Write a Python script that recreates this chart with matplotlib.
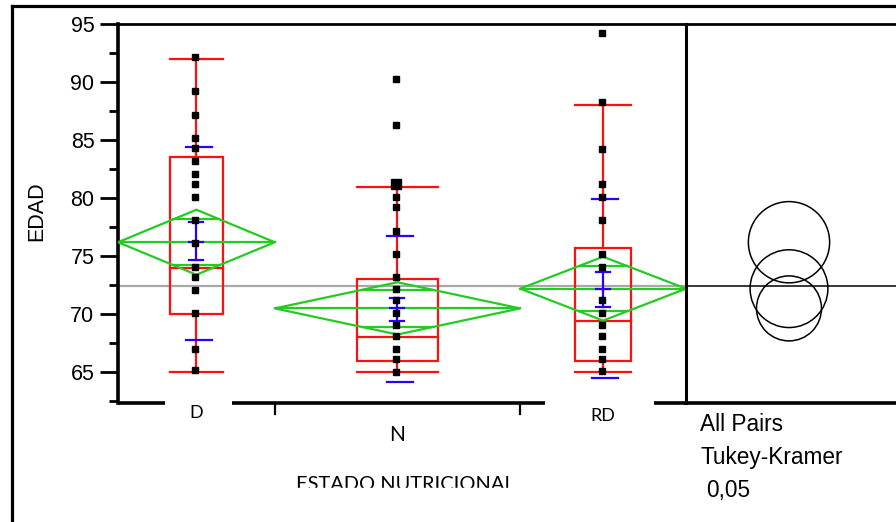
import numpy as np
import matplotlib.pyplot as plt
from matplotlib.lines import Line2D
from matplotlib.patches import Polygon, Rectangle, Circle

groups = ["D", "N", "RD"]
group_edges = [0.0, 0.276, 0.708, 1.0]

# EDAD values
edad_d = [92.2, 89.2, 87.2, 85.2, 84.3, 83.2, 82.1, 81.2, 80.1, 78.1, 76.1, 74.1,
          73.2, 72.1, 70.1, 67.0, 65.2]
edad_n = [90.3, 86.3, 81.2, 81.2, 80.1, 79.2, 77.2, 75.2, 73.2, 72.2, 71.2, 70.1,
          69.1, 68.1, 67.0, 66.1, 65.0]
edad_rd = [94.2, 88.3, 84.2, 81.2, 80.1, 78.1, 75.2, 74.1, 71.2, 70.1, 69.1, 68.1,
           67.0, 66.1, 65.1]

# quantile box stats
q1 = [70.0, 66.0, 66.0]
median = [74.0, 68.0, 69.4]
q3 = [83.5, 73.0, 75.7]
whisk_lo = [65.0, 65.0, 65.0]
whisk_hi = [92.0, 81.0, 88.0]

# means diamonds / error bars / std dev lines
means = [76.2, 70.5, 72.2]
ci_half = [2.8, 2.25, 2.75]
err_lo = [74.7, 69.4, 70.6]
err_hi = [77.9, 71.4, 73.6]
sd_lo = [67.8, 64.2, 64.5]
sd_hi = [84.4, 76.7, 79.9]
grand_mean = 72.45

# comparison circles (Tukey-Kramer)
circle_r = [3.5, 2.8, 3.35]

RED = "#ff1010"
GREEN = "#22cc22"
BLUE = "#2a00ff"

W, H = 896, 522
fig = plt.figure(figsize=(W / 100, H / 100), dpi=100)

L, R, T, B = 118, 686, 24, 403
ax = fig.add_axes([L / W, 1 - B / H, (R - L) / W, (B - T) / H])
ax2 = fig.add_axes([R / W, 1 - B / H, (W - R) / W, (B - T) / H])

ymin, ymax = 62.35, 95
ax.set_xlim(0, 1)
ax.set_ylim(ymin, ymax)

data = [edad_d, edad_n, edad_rd]
px_per_ax = R - L
sd_w = 26 / px_per_ax
cap_w = 14 / px_per_ax

ax.axhline(grand_mean, color="#a8a8a8", lw=1.6, zorder=1)

for i, vals in enumerate(data):
    left, right = group_edges[i], group_edges[i + 1]
    gw = right - left
    cx = (left + right) / 2
    bw = gw / 3

    # box plot
    ax.add_patch(Rectangle((cx - bw / 2, q1[i]), bw, q3[i] - q1[i], fill=False,
                           edgecolor=RED, lw=1.6, zorder=2))
    ax.plot([cx - bw / 2, cx + bw / 2], [median[i]] * 2, color=RED, lw=1.6, zorder=2)
    ax.plot([cx, cx], [whisk_lo[i], q1[i]], color=RED, lw=1.6, zorder=2)
    ax.plot([cx, cx], [q3[i], whisk_hi[i]], color=RED, lw=1.6, zorder=2)
    for w in (whisk_lo[i], whisk_hi[i]):
        ax.plot([cx - bw / 2, cx + bw / 2], [w, w], color=RED, lw=1.6, zorder=2)

    # means diamond
    m, h = means[i], ci_half[i]
    ax.add_patch(Polygon([(left, m), (cx, m + h), (right, m), (cx, m - h)],
                         closed=True, fill=False, edgecolor=GREEN, lw=1.6, zorder=3))
    ax.plot([left, right], [m, m], color=GREEN, lw=1.6, zorder=3)
    ov = h / np.sqrt(2)
    ow = gw * (1 - 1 / np.sqrt(2)) / 2
    for y in (m + ov, m - ov):
        ax.plot([cx - ow, cx + ow], [y, y], color=GREEN, lw=1.6, zorder=3)

    # error bars and std dev lines
    ax.plot([cx, cx], [err_lo[i], err_hi[i]], color=BLUE, lw=1.6, zorder=4)
    for y in (err_lo[i], m, err_hi[i]):
        ax.plot([cx - cap_w / 2, cx + cap_w / 2], [y, y], color=BLUE, lw=1.6, zorder=4)
    for y in (sd_lo[i], sd_hi[i]):
        ax.plot([cx - sd_w / 2 + 0.004, cx + sd_w / 2 + 0.004], [y, y],
                color=BLUE, lw=1.6, zorder=4)

    # points (repeated values drawn bigger)
    uv, cnt = np.unique(vals, return_counts=True)
    for v, c in zip(uv, cnt):
        ax.plot(cx - 0.002, v, "s", color="black", ms=4.4 if c == 1 else 6.8,
                mec="black", zorder=5)

# axes styling
ax.set_yticks([65, 70, 75, 80, 85, 90, 95])
ax.set_yticks(np.arange(62.5, 95, 2.5), minor=True)
ax.set_xticks([])
ax.tick_params(axis="y", which="major", length=13, width=2, labelsize=15.5, pad=4)
ax.tick_params(axis="y", which="minor", length=6.5, width=2)
for lab in ax.get_yticklabels():
    lab.set_fontfamily("Liberation Sans")
ax.spines["left"].set_linewidth(2.6)
ax.spines["top"].set_linewidth(2)
ax.spines["right"].set_visible(False)
ax.spines["bottom"].set_visible(False)

# broken bottom axis with separator ticks
bt = ax.get_xaxis_transform()
for a, b in [(118, 165), (232, 545), (654, 686)]:
    ax.plot([(a - L) / px_per_ax, (b - L) / px_per_ax], [0, 0], color="black",
            lw=2.6, transform=bt, clip_on=False, solid_capstyle="butt")
for e in group_edges[1:-1]:
    ax.plot([e, e], [0, -11 / (B - T)], color="black", lw=1.6, transform=bt,
            clip_on=False)

label_dy = [2, 22, 5]
label_fs = [13, 15, 13]
for i, g in enumerate(groups):
    cx = (group_edges[i] + group_edges[i + 1]) / 2
    ax.annotate(g, (cx, 0), xycoords=bt, xytext=(0, -label_dy[i] * 0.72),
                textcoords="offset points", ha="center", va="top",
                fontsize=label_fs[i], fontfamily="Lato")

fig.text(37 / W, 1 - 211 / H, "EDAD", rotation=90, ha="center", va="center",
         fontsize=15.5, fontfamily="Liberation Sans")
fig.text(405 / W, 1 - 476 / H, "ESTADO NUTRICIONAL", ha="center", va="top",
         fontsize=14.4, fontfamily="Lato")
fig.add_artist(Rectangle((280 / W, 1 - 500 / H), 250 / W, 12 / H,
                         transform=fig.transFigure, color="white", zorder=10))

# comparison circles panel
ax2.set_ylim(ymin, ymax)
ax2.set_xlim(0, (W - R) / ((B - T) / (ymax - ymin)))
ccx = (789 - R) / ((B - T) / (ymax - ymin))
ax2.axhline(grand_mean, color="black", lw=1.1)
for m, r in zip(means, circle_r):
    ax2.add_patch(Circle((ccx, m), r, fill=False, edgecolor="black", lw=1.1))
ax2.set_xticks([])
ax2.set_yticks([])
ax2.spines["right"].set_visible(False)
ax2.spines["left"].set_linewidth(2.2)
ax2.spines["top"].set_linewidth(2)
ax2.spines["bottom"].set_linewidth(2.6)

for txt, x, yb in [("All Pairs", 700, 431), ("Tukey-Kramer", 700, 464), ("0,05", 706, 497)]:
    fig.text(x / W, 1 - yb / H, txt, ha="left", va="baseline", fontsize=16.3,
             fontfamily="Liberation Sans")

# outer frame
fig.add_artist(Line2D([12 / W, 1], [1 - 6 / H] * 2, color="black", lw=2.3))
fig.add_artist(Line2D([12 / W] * 2, [0, 1 - 6 / H], color="black", lw=2.3))

fig.savefig("out.png", dpi=100)
